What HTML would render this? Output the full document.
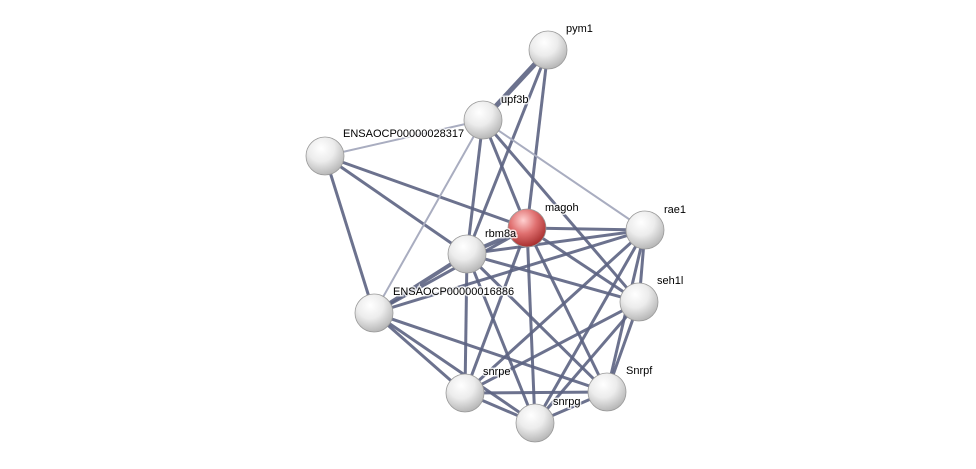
<!DOCTYPE html>
<html><head><meta charset="utf-8"><style>
html,body{margin:0;padding:0;background:#fff;}
svg{display:block;}
text{font-family:"Liberation Sans",sans-serif;font-size:11px;fill:#000;stroke:#fff;stroke-width:3px;stroke-opacity:0.8;paint-order:stroke;}
</style></head><body>
<svg width="976" height="469" viewBox="0 0 976 469" xmlns="http://www.w3.org/2000/svg">
<defs>
<radialGradient id="g" cx="40%" cy="30%" r="70%">
<stop offset="0" stop-color="#ffffff"/><stop offset="0.5" stop-color="#ececec"/><stop offset="1" stop-color="#b8b8b8"/>
</radialGradient>
<radialGradient id="r" cx="40%" cy="30%" r="70%">
<stop offset="0" stop-color="#ffd0d0"/><stop offset="0.5" stop-color="#e07070"/><stop offset="1" stop-color="#a83030"/>
</radialGradient>
</defs>
<g stroke="#5c6382" stroke-width="3" stroke-opacity="0.9" fill="none">
<line x1="548" y1="50" x2="483" y2="120" stroke-width="5"/>
<line x1="548" y1="50" x2="467" y2="254"/>
<line x1="548" y1="50" x2="527" y2="228"/>
<line x1="483" y1="120" x2="467" y2="254"/>
<line x1="483" y1="120" x2="527" y2="228"/>
<line x1="483" y1="120" x2="639" y2="302"/>
<line x1="325" y1="156" x2="527" y2="228"/>
<line x1="325" y1="156" x2="374" y2="313"/>
<line x1="325" y1="156" x2="467" y2="254"/>
<line x1="527" y1="228" x2="467" y2="254" stroke-width="4"/>
<line x1="527" y1="228" x2="645" y2="230"/>
<line x1="527" y1="228" x2="639" y2="302"/>
<line x1="527" y1="228" x2="607" y2="392"/>
<line x1="527" y1="228" x2="535" y2="423"/>
<line x1="527" y1="228" x2="465" y2="393"/>
<line x1="527" y1="228" x2="374" y2="313"/>
<line x1="467" y1="254" x2="645" y2="230"/>
<line x1="467" y1="254" x2="639" y2="302"/>
<line x1="467" y1="254" x2="607" y2="392"/>
<line x1="467" y1="254" x2="535" y2="423"/>
<line x1="467" y1="254" x2="465" y2="393"/>
<line x1="467" y1="254" x2="374" y2="313" stroke-width="4"/>
<line x1="645" y1="230" x2="639" y2="302"/>
<line x1="645" y1="230" x2="607" y2="392"/>
<line x1="645" y1="230" x2="535" y2="423"/>
<line x1="645" y1="230" x2="465" y2="393"/>
<line x1="645" y1="230" x2="374" y2="313"/>
<line x1="639" y1="302" x2="607" y2="392"/>
<line x1="639" y1="302" x2="535" y2="423"/>
<line x1="639" y1="302" x2="465" y2="393"/>
<line x1="374" y1="313" x2="465" y2="393"/>
<line x1="374" y1="313" x2="535" y2="423"/>
<line x1="374" y1="313" x2="607" y2="392"/>
<line x1="465" y1="393" x2="535" y2="423"/>
<line x1="465" y1="393" x2="607" y2="392"/>
<line x1="535" y1="423" x2="607" y2="392"/>
</g>
<g stroke="#a9adc0" stroke-width="2" fill="none">
<line x1="483" y1="120" x2="325" y2="156"/>
<line x1="483" y1="120" x2="374" y2="313"/>
<line x1="483" y1="120" x2="645" y2="230"/>
</g>
<g stroke="#9a9a9a" stroke-width="0.8">
<circle cx="548" cy="50" r="19" fill="url(#g)"/>
<circle cx="483" cy="120" r="19" fill="url(#g)"/>
<circle cx="325" cy="156" r="19" fill="url(#g)"/>
<circle cx="645" cy="230" r="19" fill="url(#g)"/>
<circle cx="467" cy="254" r="19" fill="url(#g)"/>
<circle cx="639" cy="302" r="19" fill="url(#g)"/>
<circle cx="374" cy="313" r="19" fill="url(#g)"/>
<circle cx="465" cy="393" r="19" fill="url(#g)"/>
<circle cx="607" cy="392" r="19" fill="url(#g)"/>
<circle cx="535" cy="423" r="19" fill="url(#g)"/>
<circle cx="527" cy="228" r="19" fill="url(#r)"/>
</g>
<text x="566" y="32">pym1</text>
<text x="501" y="103">upf3b</text>
<text x="343" y="137">ENSAOCP00000028317</text>
<text x="545" y="211">magoh</text>
<text x="664" y="213">rae1</text>
<text x="485" y="237">rbm8a</text>
<text x="657" y="284">seh1l</text>
<text x="393" y="295">ENSAOCP00000016886</text>
<text x="483" y="375">snrpe</text>
<text x="626" y="374">Snrpf</text>
<text x="553" y="405">snrpg</text>
</svg>
</body></html>
